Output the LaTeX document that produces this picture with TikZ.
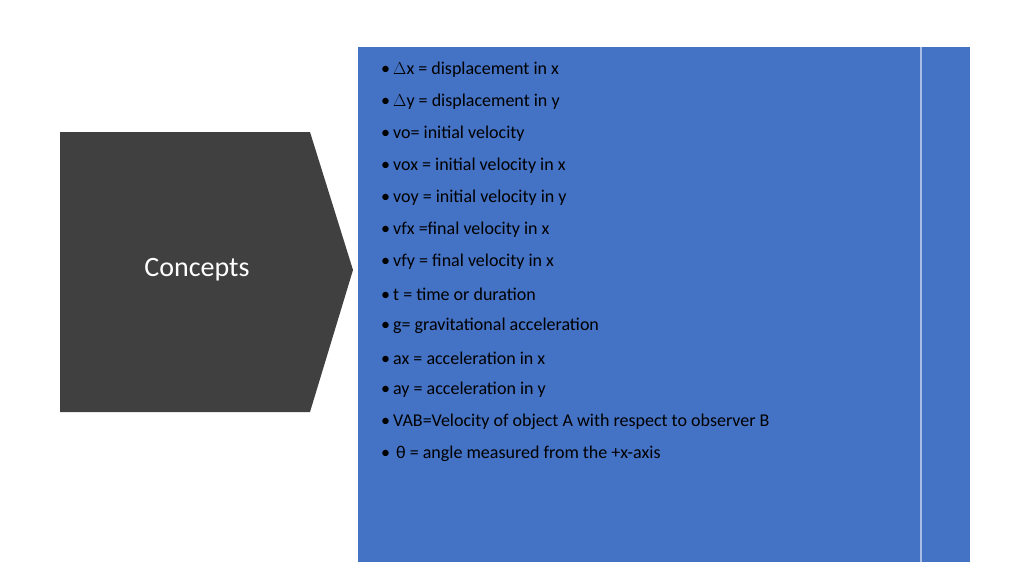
\documentclass[tikz,border=0pt]{standalone}
\usepackage{fontspec}
\setmainfont{Carlito}
\definecolor{panelblue}{HTML}{4472C4}
\definecolor{darkgrey}{HTML}{404040}
\definecolor{rulegrey}{HTML}{A9BEE6}
\tikzset{
  item/.style={anchor=west, inner sep=0pt, font=\fontsize{18}{20}\selectfont, text=black},
  title/.style={font=\fontsize{28}{32}\selectfont, text=white}
}
\begin{document}
\begin{tikzpicture}[x=1pt,y=-1pt]
  \useasboundingbox (0,0) rectangle (1024,576);
  \fill[panelblue] (358,47) rectangle (970,562);
  \draw[rulegrey, line width=1.2pt] (921,47) -- (921,562);
  \fill[darkgrey] (60,132) -- (310,132) -- (353,270) -- (310,412) -- (60,412) -- cycle;
  \node[title] (concepts) at (197,270) {Concepts};
  \foreach \txt [count=\i] in {{$\Delta$x = displacement in x},{$\Delta$y = displacement in y},
      {vo= initial velocity},{vox = initial velocity in x},{voy = initial velocity in y},
      {vfx =final velocity in x},{vfy = final velocity in x},{t = time or duration},
      {g= gravitational acceleration},{ax = acceleration in x},{ay = acceleration in y},
      {VAB=Velocity of object A with respect to observer B},{\,θ = angle measured from the +x-axis}}
    \node[item] (line\i) at (381,38+32*\i) {\textbullet\,\txt};
\end{tikzpicture}
\end{document}
